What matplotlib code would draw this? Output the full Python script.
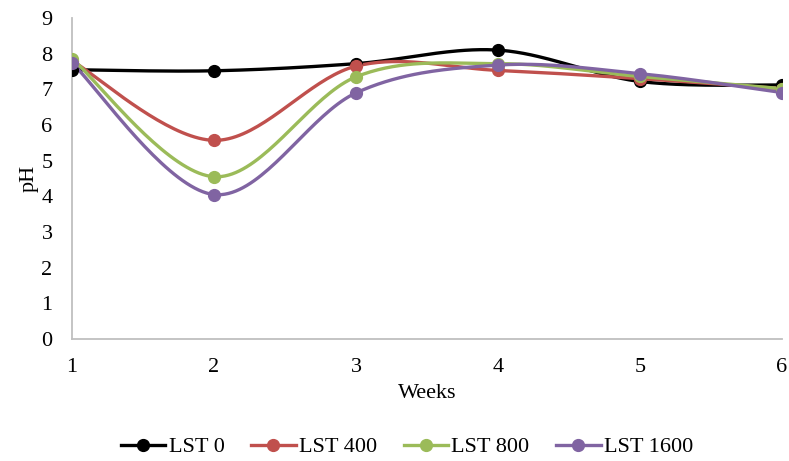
import numpy as np
import matplotlib
matplotlib.use("Agg")
import matplotlib.pyplot as plt

plt.rcParams['font.family'] = ['Liberation Serif', 'DejaVu Serif']

weeks = [1, 2, 3, 4, 5, 6]
series_names = ["LST 0", "LST 400", "LST 800", "LST 1600"]
lst0 = [7.55, 7.52, 7.72, 8.10, 7.22, 7.12]
lst400 = [7.80, 5.57, 7.65, 7.53, 7.30, 7.02]
lst800 = [7.86, 4.55, 7.35, 7.72, 7.36, 7.02]
lst1600 = [7.74, 4.05, 6.90, 7.68, 7.44, 6.91]
colors = ["#000000", "#C0504D", "#9BBB59", "#8064A2"]
y_ticks = list(range(0, 10))


def smooth(x, y, n=40):
    """Excel-like smoothed line: Catmull-Rom style cubic Bezier segments."""
    x = np.asarray(x, float)
    y = np.asarray(y, float)
    pts = np.column_stack([x, y])
    out = [pts[0]]
    m = len(pts)
    t = np.linspace(0, 1, n)[1:, None]
    for i in range(m - 1):
        p0 = pts[i - 1] if i > 0 else pts[i]
        p1 = pts[i]
        p2 = pts[i + 1]
        p3 = pts[i + 2] if i + 2 < m else pts[i + 1]
        c1 = p1 + (p2 - p0) / 6.0
        c2 = p2 - (p3 - p1) / 6.0
        seg = ((1 - t) ** 3) * p1 + 3 * ((1 - t) ** 2) * t * c1 + 3 * (1 - t) * t ** 2 * c2 + t ** 3 * p2
        out.extend(seg)
    out = np.array(out)
    return out[:, 0], out[:, 1]


fig = plt.figure(figsize=(7.89, 4.61), dpi=100)
ax = fig.add_axes([72 / 789, 1 - 339 / 461, (782 - 72) / 789, (339 - 18) / 461])

for name, vals, c in zip(series_names, [lst0, lst400, lst800, lst1600], colors):
    sx, sy = smooth(weeks, vals)
    ax.plot(sx, sy, color=c, lw=2.4, solid_capstyle='round', zorder=3)
    ax.plot(weeks, vals, 'o', color=c, ms=8.5, zorder=4)
    ax.plot([], [], '-o', color=c, lw=2.4, ms=8.5, label=name)

ax.set_xlim(1, 6)
ax.set_ylim(0, 9)
ax.set_yticks(y_ticks)
ax.set_xticks(weeks)
for s in ['top', 'right']:
    ax.spines[s].set_visible(False)
for s in ['left', 'bottom']:
    ax.spines[s].set_color('#BFBFBF')
    ax.spines[s].set_linewidth(1.3)
ax.tick_params(length=0, labelsize=16, colors='black')
ax.tick_params(axis='x', pad=14)
ax.tick_params(axis='y', pad=14)
ax.set_xlabel("Weeks", fontsize=16, labelpad=5)
ax.set_ylabel("pH", fontsize=16, labelpad=2)

leg = fig.legend(loc='center', bbox_to_anchor=(407 / 789, 1 - 447 / 461), ncol=4,
                 frameon=False, fontsize=16, handlelength=2.0, handletextpad=0.15,
                 columnspacing=1.2)

fig.savefig("out.png", dpi=100)
